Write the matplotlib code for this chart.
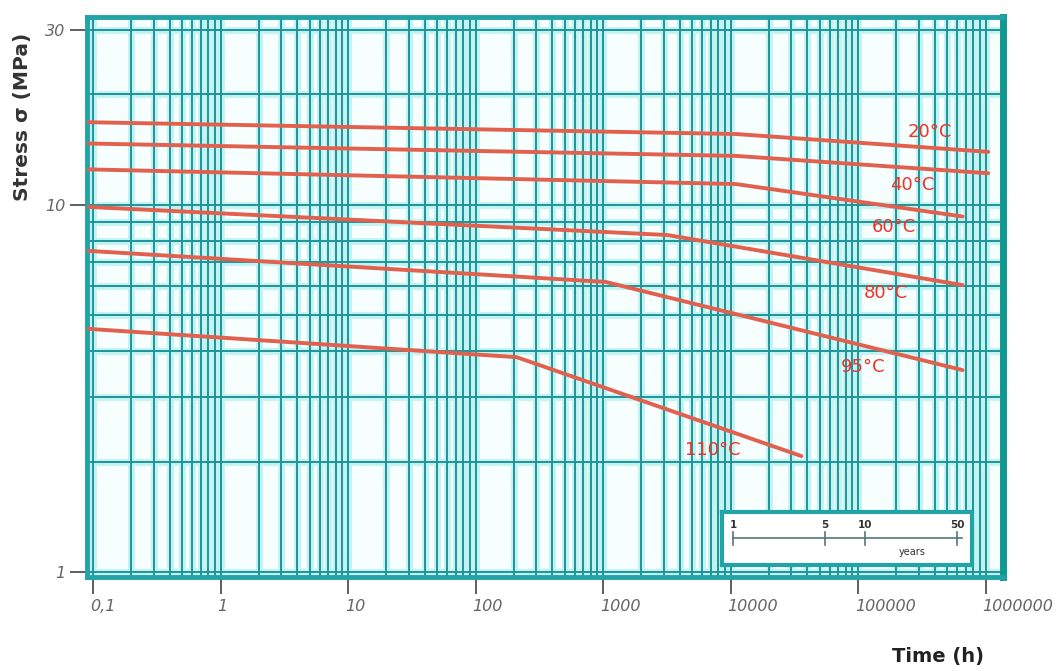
import matplotlib
matplotlib.use('Agg')
import matplotlib.pyplot as plt
import matplotlib.transforms as mtransforms
from matplotlib.ticker import LogLocator, NullFormatter

# creep curves, time in hours, stress in MPa
t_20 = [0.09, 1.1e4, 1.05e6]
s_20 = [16.8, 15.6, 13.95]
t_40 = [0.09, 1.1e4, 1.05e6]
s_40 = [14.7, 13.6, 12.2]
t_60 = [0.09, 1.1e4, 6.6e5]
s_60 = [12.5, 11.4, 9.3]
t_80 = [0.09, 3.2e3, 6.6e5]
s_80 = [9.88, 8.28, 6.05]
t_95 = [0.09, 1.05e3, 6.6e5]
s_95 = [7.5, 6.17, 3.55]
t_110 = [0.09, 210.0, 3.6e4]
s_110 = [4.6, 3.85, 2.07]

series = [(t_20, s_20), (t_40, s_40), (t_60, s_60),
          (t_80, s_80), (t_95, s_95), (t_110, s_110)]

labels = ['20°C', '40°C', '60°C', '80°C', '95°C', '110°C']
label_t = [3.67e5, 2.65e5, 1.92e5, 1.66e5, 1.09e5, 7.2e3]
label_s = [15.8, 11.3, 8.71, 5.76, 3.62, 2.15]

x_ticks = [0.1, 1, 10, 100, 1000, 10000, 100000, 1000000]
x_ticklabels = ['0,1', '1', '10', '100', '1000', '10000', '100000', '1000000']
y_ticks = [1, 10, 30]
y_ticklabels = ['1', '10', '30']

# years scale in the inset box
years = [1, 5, 10, 50]

teal = '#1f9499'
glow = '#c2f3f3'
frame = '#22a3a6'
red_line = '#e2604e'
red_text = '#ee3328'

xlim = (0.0897, 1.37e6)
ylim = (0.97, 32.5)
pos = [0.0824, 0.1401, 0.8674, 0.8346]


def setup_log(a):
    a.set_xscale('log')
    a.set_yscale('log')
    a.set_xlim(*xlim)
    a.set_ylim(*ylim)
    a.set_xticks(x_ticks)
    a.set_yticks(y_ticks)
    a.xaxis.set_minor_locator(LogLocator(base=10, subs=range(2, 10), numticks=30))
    a.yaxis.set_minor_locator(LogLocator(base=10, subs=range(2, 10), numticks=30))
    a.xaxis.set_minor_formatter(NullFormatter())
    a.yaxis.set_minor_formatter(NullFormatter())


fig = plt.figure(figsize=(10.56, 6.71), dpi=100)

# background axes: only the wide pale glow of the grid
bg = fig.add_axes(pos)
bg.set_facecolor('#f7fefe')
setup_log(bg)
bg.grid(True, which='both', color=glow, lw=5)
bg.tick_params(which='both', length=0, labelbottom=False, labelleft=False)
for sp in bg.spines.values():
    sp.set_visible(False)

ax = fig.add_axes(pos)
ax.set_facecolor('none')
setup_log(ax)
ax.set_xticklabels(x_ticklabels)
ax.set_yticklabels(y_ticklabels)
ax.grid(True, which='both', color=teal, lw=1.4)
ax.set_axisbelow(True)

for t, s in series:
    ax.plot(t, s, color=red_line, lw=2.8, solid_capstyle='round', zorder=3)

for lab, lx, ly in zip(labels, label_t, label_s):
    ax.text(lx, ly, lab, color=red_text, fontsize=13, ha='center',
            va='center', zorder=4)

ax.tick_params(which='major', direction='out', length=12, width=1.2,
               color='#444444', labelcolor='#666666', labelsize=11.5)
ax.tick_params(axis='x', which='major', pad=4)
ax.tick_params(which='minor', length=0)
shift = mtransforms.ScaledTranslation(-3 / 100, 0, fig.dpi_scale_trans)
for lab in ax.get_xticklabels():
    lab.set_ha('left')
    lab.set_style('italic')
    lab.set_transform(lab.get_transform() + shift)
for lab in ax.get_yticklabels():
    lab.set_style('italic')

for sp in ax.spines.values():
    sp.set_color(frame)
    sp.set_linewidth(3.5)
ax.spines['right'].set_color('#119890')
ax.spines['right'].set_linewidth(5)

# inset box with its own years scale
ins = fig.add_axes([0.6837, 0.158, 0.2367, 0.079])
ins.set_facecolor('white')
ins.set_xscale('log')
ins.set_xlim(0.825, 64.9)
ins.set_ylim(0, 1)
ins.set_xticks([])
ins.set_yticks([])
ins.minorticks_off()
for sp in ins.spines.values():
    sp.set_color(frame)
    sp.set_linewidth(3)
ins.plot([years[0], years[-1] * 1.1], [0.5, 0.5], color='#557777', lw=1.2)
for y in years:
    ins.plot([y, y], [0.38, 0.62], color='#557777', lw=1.2)
    ins.text(y, 0.76, str(y), fontsize=7.5, fontweight='bold',
             color='#333333', ha='center', va='center')
ins.text(23, 0.24, 'years', fontsize=7, color='#333333', ha='center',
         va='center')

fig.text(0.021, 0.826, 'Stress σ (MPa)', rotation=90, fontsize=14.5,
         fontweight='bold', color='#333333', ha='center', va='center')
fig.text(0.888, 0.022, 'Time (h)', fontsize=14, fontweight='bold',
         color='#222222', ha='center', va='center')

fig.savefig('out.png', dpi=100)
